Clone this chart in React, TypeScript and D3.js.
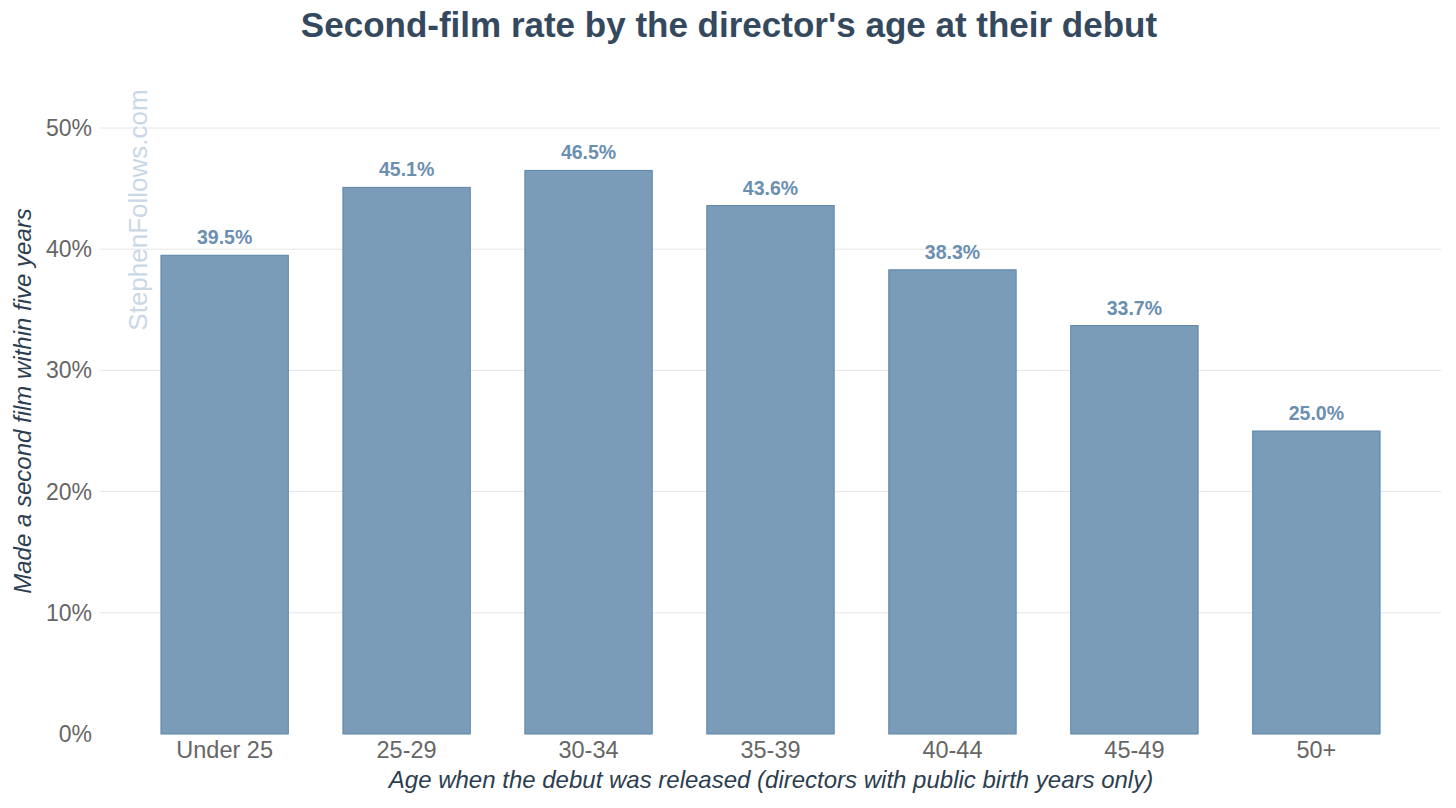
import * as React from "react";
import * as d3 from "d3";

const ageGroups = ["Under 25", "25-29", "30-34", "35-39", "40-44", "45-49", "50+"];
const secondFilmRate = [39.5, 45.1, 46.5, 43.6, 38.3, 33.7, 25.0];
const yTicks = [0, 10, 20, 30, 40, 50];

const W = 1456;
const H = 808;
const plot = { left: 100, right: 1441, top: 128, bottom: 734 };
const font = "'Liberation Sans', Arial, sans-serif";

export default function App() {
    const xScale = d3.scaleBand<string>()
        .domain(ageGroups)
        .range([plot.left, plot.right])
        .paddingInner(0.3)
        .paddingOuter(0.335);

    const yScale = d3.scaleLinear()
        .domain([0, 50])
        .range([plot.bottom, plot.top]);

    const bars = ageGroups.map((g, i) => {
        const x = xScale(g) || 0;
        const y = yScale(secondFilmRate[i]);
        return <g key={g}>
            <rect x={x} y={y} width={xScale.bandwidth()} height={plot.bottom - y}
                fill="#7a9cb8" stroke="#5b85a8" strokeWidth={1} />
            <text x={x + xScale.bandwidth() / 2} y={y - 11} textAnchor="middle"
                fontSize={19.5} fontWeight="bold" fill="#6b8fb1">{secondFilmRate[i].toFixed(1)}%</text>
        </g>;
    });

    const grid = yTicks.map(t => <g key={t}>
        {t > 0 && <line x1={plot.left} x2={plot.right} y1={yScale(t)} y2={yScale(t)} stroke="#e6e6e6" strokeWidth={1} />}
        <text x={92} y={yScale(t)} dy="0.35em" textAnchor="end" fontSize={23} fill="#666666">{t}%</text>
    </g>);

    return <svg width={W} height={H} style={{ display: "block", position: "absolute", left: 0, top: 0 }} fontFamily={font}>
        <rect width={W} height={H} fill="#ffffff" />
        {grid}
        <text transform="translate(147,210) rotate(-90)" textAnchor="middle" fontSize={26} fill="#c9d8e6">StephenFollows.com</text>
        {bars}
        {ageGroups.map(g => <text key={g} x={(xScale(g) || 0) + xScale.bandwidth() / 2} y={758} textAnchor="middle"
            fontSize={23.5} fill="#666666">{g}</text>)}
        <text x={729} y={37} textAnchor="middle" fontSize={35} fontWeight="bold" fill="#34495e">Second-film rate by the director's age at their debut</text>
        <text x={771} y={788} textAnchor="middle" fontSize={24} fontStyle="italic" fill="#2c3e50">Age when the debut was released (directors with public birth years only)</text>
        <text transform="translate(31,401) rotate(-90)" textAnchor="middle" fontSize={24} fontStyle="italic" fill="#2c3e50">Made a second film within five years</text>
    </svg>;
}
